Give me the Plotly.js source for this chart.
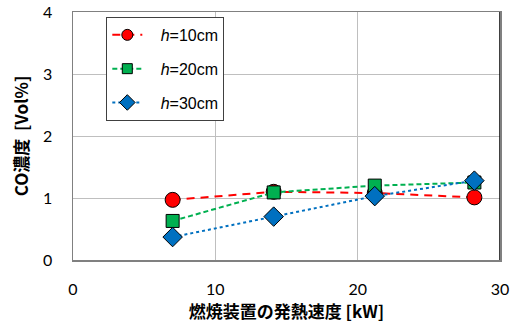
<!DOCTYPE html>
<html><head><meta charset="utf-8">
<script src="https://cdn.plot.ly/plotly-3.0.1.min.js"></script>
<style>body{margin:0;background:#fff}#c{width:513px;height:327px}</style>
</head><body><div id="c"></div>
<script>
const heatRate = [7.0, 14.1, 21.2, 28.2];
const co_h10 = [0.97, 1.10, 1.08, 1.01];
const co_h20 = [0.63, 1.09, 1.20, 1.25];
const co_h30 = [0.37, 0.70, 1.03, 1.28];
const seriesNames = ['<i>h</i>=10cm', '<i>h</i>=20cm', '<i>h</i>=30cm'];
const xTicks = [0, 10, 20, 30];
const yTicks = [0, 1, 2, 3, 4];

const styles = [
  {color: '#FF0000', dash: '8px,6px', sym: 'circle', size: 15, lsize: 11},
  {color: '#00B050', dash: '5px,3px', sym: 'square', size: 13, lsize: 10},
  {color: '#0070C0', dash: 'dot', sym: 'diamond', size: 15, lsize: 12}
];
const ys = [co_h10, co_h20, co_h30];
const pad = '\u00A0\u00A0\u00A0';
const traces = [];
ys.forEach((y, i) => {
  const s = styles[i];
  traces.push({x: heatRate, y: y, name: seriesNames[i], type: 'scatter', mode: 'lines+markers',
    showlegend: false,
    line: {color: s.color, dash: s.dash, width: 2},
    marker: {color: s.color, symbol: s.sym, size: s.size, line: {color: '#000', width: 1}}});
});
ys.forEach((y, i) => {
  const s = styles[i];
  traces.push({x: [null], y: [null], name: pad + seriesNames[i], type: 'scatter', mode: 'lines+markers',
    legendgroup: 'g' + i,
    line: {color: s.color, dash: s.dash, width: 2},
    marker: {color: s.color, symbol: s.sym, size: s.lsize, line: {color: '#000', width: 1}}});
});
const tickFont = {family: 'Lato, "Liberation Sans", sans-serif', size: 16, color: '#000'};
const layout = {
  width: 513, height: 327,
  margin: {l: 73, r: 13, t: 12, b: 67},
  paper_bgcolor: '#fff', plot_bgcolor: '#fff',
  showlegend: true,
  legend: {x: 0.078, y: 0.98, xanchor: 'left', yanchor: 'top',
    bgcolor: '#fff', bordercolor: '#404040', borderwidth: 1,
    font: {family: 'Liberation Sans, Arial, sans-serif', size: 16, color: '#000'},
    traceorder: 'grouped', tracegroupgap: 10},
  xaxis: {range: [0, 30], tickvals: xTicks, ticks: '', tickfont: tickFont,
    ticklabelstandoff: 14,
    showgrid: true, gridcolor: '#BFBFBF', gridwidth: 1, zeroline: false,
    showline: true, linecolor: '#808080', linewidth: 1.5, mirror: true,
    title: {text: '燃焼装置の発熱速度 [kW]', standoff: 8,
      font: {family: '"Noto Sans CJK JP", sans-serif', size: 17, color: '#000', weight: 'bold'}}},
  yaxis: {range: [0, 4], tickvals: yTicks, ticks: '', tickfont: tickFont,
    ticklabelstandoff: 16,
    showgrid: true, gridcolor: '#BFBFBF', gridwidth: 1, zeroline: false,
    showline: true, linecolor: '#808080', linewidth: 1.5, mirror: true,
    title: {text: 'CO濃度  [Vol%]', standoff: 10,
      font: {family: '"Noto Sans CJK JP", sans-serif', size: 17, color: '#000', weight: 'bold'}}},
  shapes: [{type: 'line', xref: 'x', yref: 'y', x0: 30, x1: 30, y0: 0, y1: 4,
    line: {color: '#000', width: 1.5}}]
};
Plotly.newPlot('c', traces, layout, {displayModeBar: false, staticPlot: true});
</script></body></html>
